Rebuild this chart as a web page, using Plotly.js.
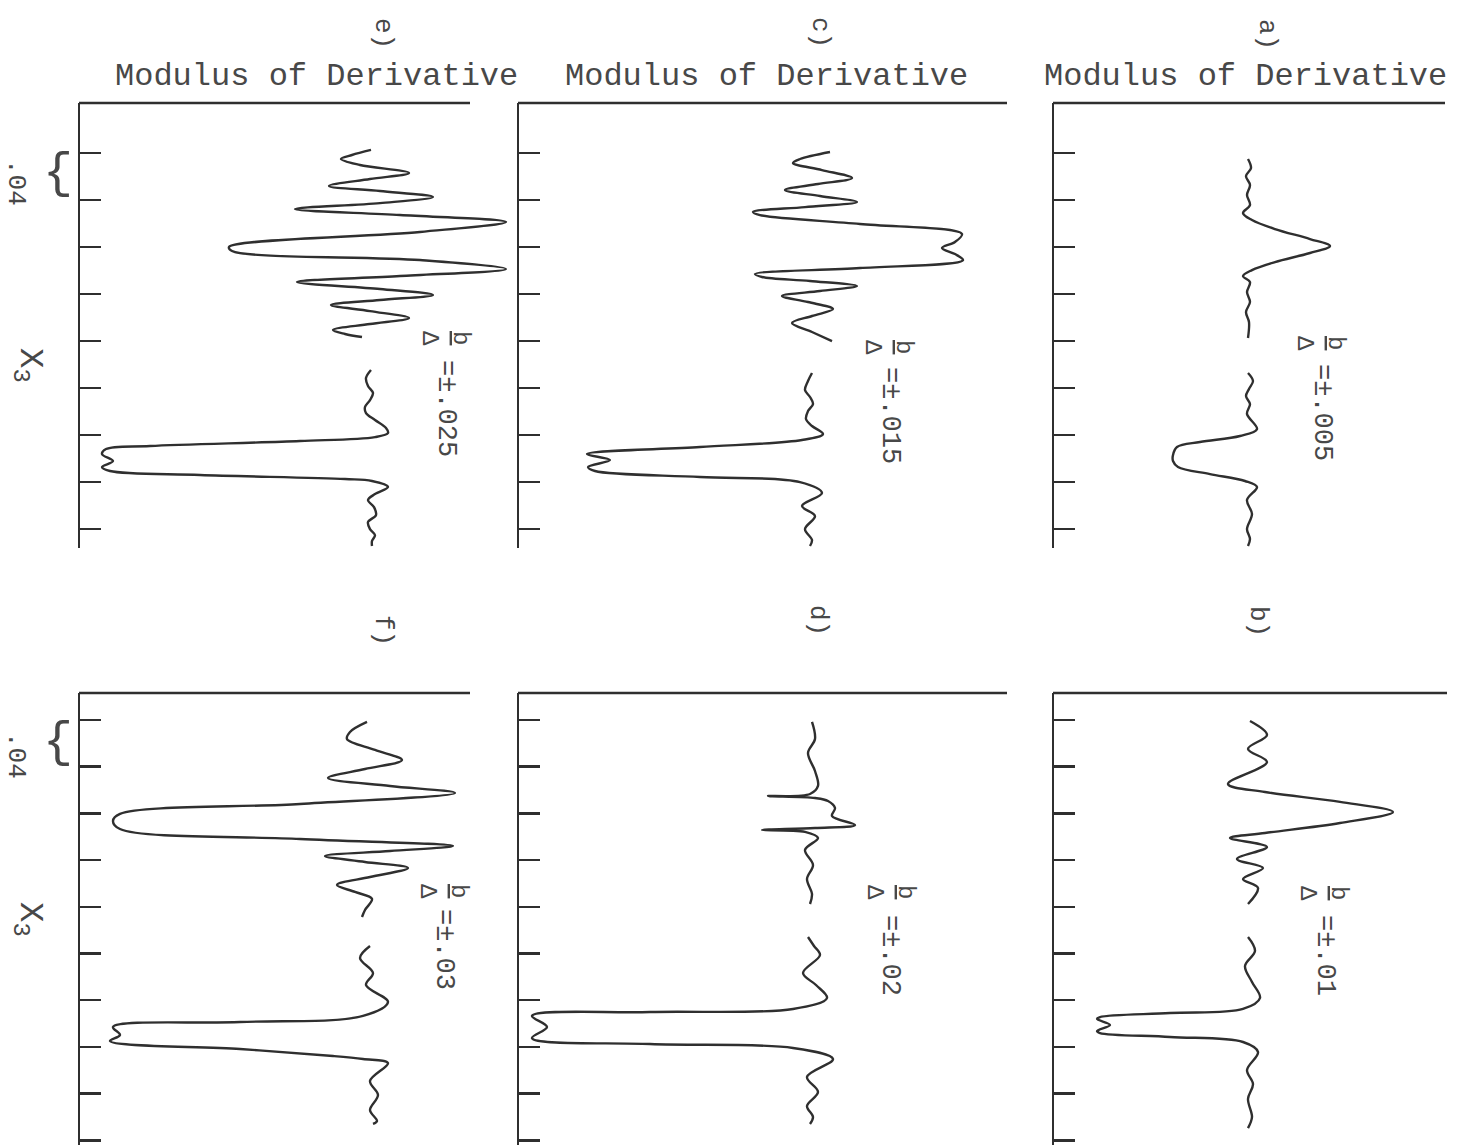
<!DOCTYPE html>
<html>
<head>
<meta charset="utf-8">
<script src="https://cdn.plot.ly/plotly-3.0.1.min.js"></script>
<style>
  html, body { margin: 0; padding: 0; background: #ffffff; }
  #chart { width: 1457px; height: 1145px; }
</style>
</head>
<body>
<div id="chart"></div>
<script>
// ---------------- DATA ----------------
const panelLabels = ['a)', 'b)', 'c)', 'd)', 'e)', 'f)'];
const ratioLabels = ['=±.005', '=±.01', '=±.015', '=±.02', '=±.025', '=±.03'];
const xTitle = 'Modulus of Derivative';
const yTitle = 'X<sub>3</sub>';
const scaleLabel = '.04';
const tickValsTop = [0.04, 0.08, 0.12, 0.16, 0.20, 0.24, 0.28, 0.32, 0.36];
const tickValsBottom = [0.04, 0.08, 0.12, 0.16, 0.20, 0.24, 0.28, 0.32, 0.36, 0.40];

// panel a)  b/Δ = ±.005
const aMod1 = [19.4, 19.7, 19.2, 19.6, 19.3, 19.6, 18.9, 19.8, 22.1, 25.6, 27.6, 25.6, 22.1, 19.8, 18.9, 19.6, 19.3, 19.6, 19.2, 19.5, 19.4];
const aX1   = [0.0451, 0.0528, 0.0596, 0.0672, 0.0757, 0.0843, 0.0911, 0.0970, 0.1047, 0.1132, 0.1191, 0.1251, 0.1328, 0.1396, 0.1447, 0.1498, 0.1583, 0.1668, 0.1753, 0.1838, 0.1974];
const aMod2 = [19.4, 19.9, 19.5, 19.2, 19.6, 19.3, 20.3, 18.6, 14.6, 12.3, 11.9, 11.9, 12.4, 15.6, 19.1, 20.3, 19.3, 19.8, 19.3, 19.6, 19.4];
const aX2   = [0.2272, 0.2340, 0.2408, 0.2468, 0.2536, 0.2621, 0.2749, 0.2808, 0.2859, 0.2902, 0.2970, 0.3021, 0.3072, 0.3132, 0.3191, 0.3242, 0.3353, 0.3472, 0.3600, 0.3685, 0.3744];

// panel b)  b/Δ = ±.01
const bMod1 = [19.6, 21.3, 19.4, 21.3, 17.4, 21.1, 28.6, 33.9, 28.6, 21.1, 17.6, 21.3, 18.3, 20.9, 18.9, 20.4, 19.4];
const bX1   = [0.0409, 0.0528, 0.0648, 0.0760, 0.0948, 0.1017, 0.1102, 0.1188, 0.1282, 0.1368, 0.1411, 0.1488, 0.1591, 0.1668, 0.1762, 0.1839, 0.1976];
const bMod2 = [19.4, 20.1, 19.1, 19.8, 20.6, 18.9, 11.6, 4.6, 4.3, 5.6, 4.3, 4.6, 11.6, 18.9, 20.4, 19.3, 19.9, 19.4, 19.8, 19.4];
const bX2   = [0.2259, 0.2378, 0.2507, 0.2644, 0.2781, 0.2875, 0.2910, 0.2944, 0.2961, 0.3012, 0.3064, 0.3081, 0.3115, 0.3158, 0.3244, 0.3398, 0.3518, 0.3646, 0.3800, 0.3895];

// panel c)  b/Δ = ±.015
const cMod1 = [31.1, 28.1, 27.4, 30.3, 33.3, 29.9, 26.6, 30.1, 33.8, 28.6, 23.4, 24.1, 34.1, 44.3, 43.6, 42.3, 43.6, 44.4, 34.1, 23.6, 24.3, 29.1, 33.8, 30.1, 26.3, 28.9, 31.4, 29.3, 27.3, 29.3, 31.3];
const cX1   = [0.0391, 0.0451, 0.0485, 0.0545, 0.0613, 0.0664, 0.0715, 0.0766, 0.0817, 0.0860, 0.0902, 0.0928, 0.1004, 0.1089, 0.1157, 0.1208, 0.1260, 0.1311, 0.1379, 0.1430, 0.1455, 0.1489, 0.1532, 0.1574, 0.1617, 0.1668, 0.1728, 0.1787, 0.1847, 0.1923, 0.2000];
const cMod2 = [29.3, 28.9, 28.6, 29.1, 29.4, 28.9, 28.7, 29.3, 30.4, 28.3, 18.1, 6.8, 9.1, 6.9, 7.6, 18.1, 28.1, 30.3, 28.3, 29.6, 28.6, 29.3, 29.1];
const cX2   = [0.2272, 0.2340, 0.2417, 0.2476, 0.2536, 0.2596, 0.2664, 0.2723, 0.2791, 0.2842, 0.2902, 0.2962, 0.3013, 0.3072, 0.3106, 0.3157, 0.3200, 0.3293, 0.3404, 0.3489, 0.3600, 0.3693, 0.3744];

// panel d)  b/Δ = ±.02
const dMod1 = [29.3, 29.6, 28.9, 29.6, 29.9, 29.1, 24.9, 29.6, 30.9, 31.6, 31.3, 33.6, 29.6, 24.3, 28.6, 29.9, 28.6, 29.4, 28.8, 29.3, 29.1];
const dX1   = [0.0417, 0.0563, 0.0683, 0.0837, 0.0965, 0.1034, 0.1051, 0.1068, 0.1094, 0.1154, 0.1222, 0.1299, 0.1325, 0.1342, 0.1359, 0.1411, 0.1513, 0.1642, 0.1762, 0.1890, 0.1976];
const dMod2 = [28.9, 29.5, 30.1, 28.4, 29.7, 30.8, 27.4, 13.1, 1.3, 2.8, 1.3, 13.1, 27.4, 31.4, 28.8, 29.9, 28.8, 29.4, 29.1];
const dX2   = [0.2259, 0.2336, 0.2413, 0.2567, 0.2670, 0.2781, 0.2875, 0.2901, 0.2935, 0.3029, 0.3124, 0.3175, 0.3209, 0.3304, 0.3458, 0.3586, 0.3706, 0.3800, 0.3860];

// panel e)  b/Δ = ±.025
const eMod1 = [29.1, 27.2, 26.1, 28.0, 32.9, 29.0, 24.9, 30.0, 35.3, 30.0, 21.5, 32.0, 42.6, 34.0, 14.9, 15.2, 34.0, 42.6, 32.0, 21.7, 30.0, 35.3, 30.0, 25.1, 29.0, 32.9, 29.0, 25.3, 26.5, 28.2];
const eX1   = [0.0374, 0.0417, 0.0451, 0.0502, 0.0570, 0.0621, 0.0681, 0.0723, 0.0774, 0.0826, 0.0877, 0.0928, 0.0987, 0.1072, 0.1200, 0.1234, 0.1311, 0.1387, 0.1447, 0.1498, 0.1557, 0.1608, 0.1651, 0.1694, 0.1745, 0.1804, 0.1855, 0.1906, 0.1940, 0.1966];
const eMod2 = [29.1, 28.6, 28.8, 29.3, 29.0, 28.5, 28.6, 29.5, 30.6, 30.8, 29.5, 22.0, 7.0, 2.6, 2.2, 3.3, 2.2, 3.0, 12.0, 26.5, 29.2, 30.8, 29.5, 28.8, 29.4, 29.6, 28.8, 29.0, 29.5, 29.2, 29.2];
const eX2   = [0.2247, 0.2315, 0.2383, 0.2442, 0.2502, 0.2562, 0.2613, 0.2672, 0.2740, 0.2783, 0.2817, 0.2851, 0.2893, 0.2919, 0.2962, 0.3021, 0.3072, 0.3106, 0.3140, 0.3174, 0.3191, 0.3242, 0.3302, 0.3353, 0.3413, 0.3481, 0.3540, 0.3600, 0.3651, 0.3702, 0.3744];

// panel f)  b/Δ = ±.03
const fMod1 = [28.7, 27.0, 26.7, 29.5, 32.2, 28.5, 24.8, 31.0, 37.5, 22.0, 4.0, 3.3, 4.0, 22.0, 37.3, 31.0, 24.5, 28.5, 32.8, 29.0, 25.7, 27.5, 29.2, 28.5, 28.2];
const fX1   = [0.0417, 0.0503, 0.0563, 0.0657, 0.0743, 0.0820, 0.0897, 0.0965, 0.1025, 0.1119, 0.1205, 0.1265, 0.1334, 0.1419, 0.1479, 0.1522, 0.1565, 0.1616, 0.1668, 0.1745, 0.1813, 0.1873, 0.1933, 0.2027, 0.2087];
const fMod2 = [29.0, 28.0, 29.3, 28.6, 30.8, 28.3, 16.0, 3.3, 4.0, 3.0, 16.0, 25.3, 28.3, 30.8, 29.0, 29.8, 29.0, 29.7, 29.3];
const fX2   = [0.2336, 0.2438, 0.2567, 0.2670, 0.2815, 0.2935, 0.2987, 0.3029, 0.3098, 0.3149, 0.3218, 0.3278, 0.3304, 0.3338, 0.3492, 0.3612, 0.3740, 0.3835, 0.3860];

// ---------------- LAYOUT ----------------
const W = 1457, H = 1145;
const px = v => v / W;
const py = v => 1 - v / H;
const INK = '#2f2f2f';
const TEXT = '#484848';
const FONT = 'Liberation Mono, Courier New, monospace';

const rows = [
  { top: 103, bottom: 548, range: [0.3761, -0.00255], ticks: tickValsTop },
  { top: 693, bottom: 1145, range: [0.404, 0.0169], ticks: tickValsBottom }
];
// order: a b c d e f
const panels = [
  { left: 1054, right: 1457, end: 1445, row: 0, data: [[aMod1, aX1], [aMod2, aX2]], lab: [1267, 34], frac: [1320, 343], val: [1322, 412] },
  { left: 1054, right: 1457, end: 1447, row: 1, data: [[bMod1, bX1], [bMod2, bX2]], lab: [1258, 621], frac: [1323, 893], val: [1325, 955] },
  { left: 519, right: 1050, end: 1007, row: 0, data: [[cMod1, cX1], [cMod2, cX2]], lab: [820, 32], frac: [888, 347], val: [890, 415] },
  { left: 519, right: 1050, end: 1007, row: 1, data: [[dMod1, dX1], [dMod2, dX2]], lab: [818, 620], frac: [890, 892], val: [890, 955] },
  { left: 80, right: 515, end: 470, row: 0, data: [[eMod1, eX1], [eMod2, eX2]], lab: [383, 33], frac: [445, 338], val: [446, 408] },
  { left: 80, right: 515, end: 470, row: 1, data: [[fMod1, fX1], [fMod2, fX2]], lab: [383, 630], frac: [443, 892], val: [444, 949] }
];

const traces = [];
const layout = {
  width: W, height: H,
  margin: { l: 0, r: 0, t: 0, b: 0 },
  paper_bgcolor: '#ffffff',
  plot_bgcolor: 'rgba(0,0,0,0)',
  showlegend: false,
  font: { family: FONT, color: TEXT, size: 20 },
  shapes: [],
  annotations: []
};

panels.forEach((p, i) => {
  const n = i + 1;
  const xa = n === 1 ? 'x' : 'x' + n;
  const ya = n === 1 ? 'y' : 'y' + n;
  const row = rows[p.row];
  p.data.forEach(([m, x3]) => {
    traces.push({
      type: 'scatter', mode: 'lines', x: m, y: x3,
      xaxis: xa, yaxis: ya,
      line: { color: INK, width: 2.4, shape: 'spline', smoothing: 1 },
      hoverinfo: 'skip'
    });
  });
  layout[n === 1 ? 'xaxis' : 'xaxis' + n] = {
    domain: [px(p.left), px(p.right)],
    range: [0, (p.right - p.left) / 10],
    anchor: ya,
    showline: false, showgrid: false, zeroline: false,
    showticklabels: false, ticks: ''
  };
  layout[n === 1 ? 'yaxis' : 'yaxis' + n] = {
    domain: [py(row.bottom), py(row.top)],
    range: row.range,
    anchor: xa,
    showline: true, linecolor: INK, linewidth: 2.5,
    ticks: 'inside', ticklen: 21, tickwidth: 2.5, tickcolor: INK,
    tickmode: 'array', tickvals: row.ticks,
    showticklabels: false, showgrid: false, zeroline: false
  };
  // top axis line (horizontal modulus axis)
  layout.shapes.push({
    type: 'line', xref: 'paper', yref: 'paper',
    x0: px(p.left - 1), x1: px(p.end), y0: py(row.top), y1: py(row.top),
    line: { color: INK, width: 2.5 }
  });
  // panel label
  layout.annotations.push({
    xref: 'paper', yref: 'paper', x: px(p.lab[0]), y: py(p.lab[1]),
    text: panelLabels[i], textangle: 90, showarrow: false,
    xanchor: 'center', yanchor: 'middle',
    font: { family: FONT, size: 26, color: TEXT }
  });
  // b/Δ fraction
  layout.annotations.push({
    xref: 'paper', yref: 'paper', x: px(p.frac[0]), y: py(p.frac[1]),
    text: '<u>b</u><br>Δ', textangle: 90, showarrow: false,
    xanchor: 'center', yanchor: 'middle',
    font: { family: FONT, size: 24, color: TEXT }
  });
  layout.annotations.push({
    xref: 'paper', yref: 'paper', x: px(p.val[0]), y: py(p.val[1]),
    text: ratioLabels[i], textangle: 90, showarrow: false,
    xanchor: 'center', yanchor: 'middle',
    font: { family: FONT, size: 27, color: TEXT }
  });
  // x-axis title over top row
  if (p.row === 0) {
    const cx = { 1054: 1245, 519: 766, 80: 316 }[p.left];
    layout.annotations.push({
      xref: 'paper', yref: 'paper', x: px(cx), y: py(76),
      text: xTitle, showarrow: false, xanchor: 'center', yanchor: 'middle',
      font: { family: FONT, size: 32, color: TEXT }
    });
  }
});

// left-column extras: brace, .04 scale and X3 label
[[173, 182, 365], [742, 755, 919]].forEach(([braceY, scaleY, xY]) => {
  layout.annotations.push({
    xref: 'paper', yref: 'paper', x: px(58), y: py(braceY),
    text: '{', showarrow: false, xanchor: 'center', yanchor: 'middle',
    font: { family: FONT, size: 50, color: TEXT }
  });
  layout.annotations.push({
    xref: 'paper', yref: 'paper', x: 0, y: py(scaleY),
    text: scaleLabel, textangle: 90, showarrow: false,
    xanchor: 'left', yanchor: 'middle', borderpad: 0,
    font: { family: FONT, size: 26, color: TEXT }
  });
  layout.annotations.push({
    xref: 'paper', yref: 'paper', x: px(28), y: py(xY),
    text: yTitle, textangle: 90, showarrow: false,
    xanchor: 'center', yanchor: 'middle',
    font: { family: FONT, size: 34, color: TEXT }
  });
});

Plotly.newPlot('chart', traces, layout, { staticPlot: true, displayModeBar: false });
</script>
</body>
</html>
